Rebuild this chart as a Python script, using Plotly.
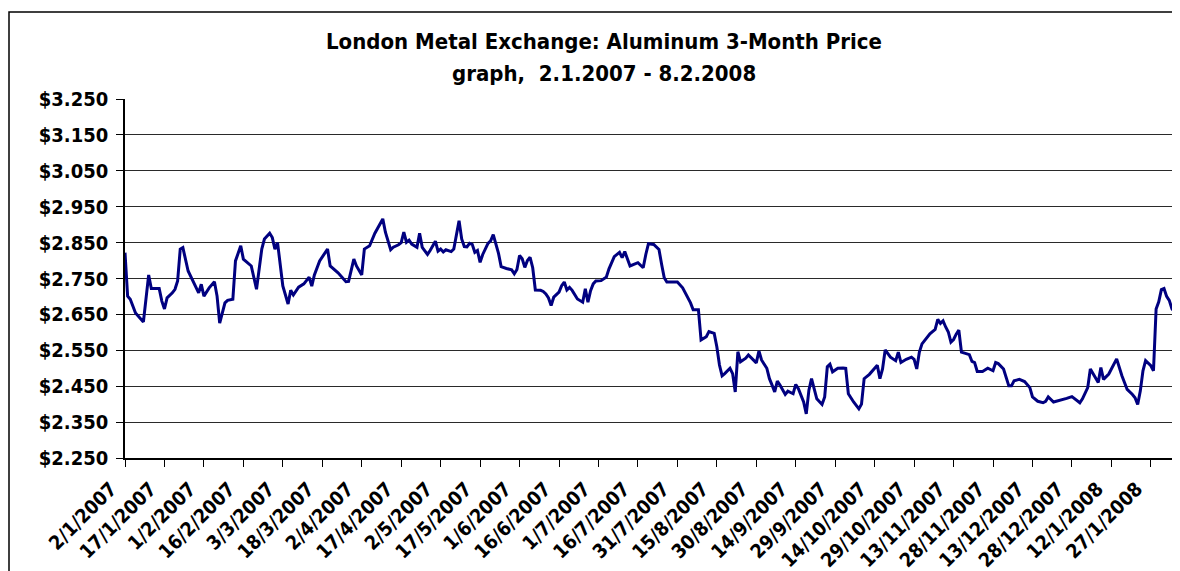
import plotly.graph_objects as go

dates = [
    "2007-01-02", "2007-01-03", "2007-01-04", "2007-01-06", "2007-01-09", "2007-01-10", "2007-01-11", "2007-01-12",
    "2007-01-15", "2007-01-16", "2007-01-17", "2007-01-18", "2007-01-20", "2007-01-21", "2007-01-22", "2007-01-23",
    "2007-01-24", "2007-01-26", "2007-01-28", "2007-01-30", "2007-01-31", "2007-02-01", "2007-02-03", "2007-02-05",
    "2007-02-06", "2007-02-07", "2007-02-09", "2007-02-10", "2007-02-12", "2007-02-13", "2007-02-15", "2007-02-16",
    "2007-02-19", "2007-02-21", "2007-02-23", "2007-02-24", "2007-02-26", "2007-02-27", "2007-02-28", "2007-03-01",
    "2007-03-03", "2007-03-05", "2007-03-06", "2007-03-07", "2007-03-09", "2007-03-11", "2007-03-13", "2007-03-14",
    "2007-03-15", "2007-03-17", "2007-03-20", "2007-03-21", "2007-03-24", "2007-03-27", "2007-03-28", "2007-03-30",
    "2007-03-31", "2007-04-02", "2007-04-03", "2007-04-05", "2007-04-07", "2007-04-10", "2007-04-11", "2007-04-13",
    "2007-04-14", "2007-04-16", "2007-04-17", "2007-04-18", "2007-04-19", "2007-04-20", "2007-04-21", "2007-04-23",
    "2007-04-24", "2007-04-25", "2007-04-27", "2007-04-28", "2007-04-30", "2007-05-01", "2007-05-02", "2007-05-03",
    "2007-05-04", "2007-05-06", "2007-05-07", "2007-05-08", "2007-05-09", "2007-05-10", "2007-05-11", "2007-05-12",
    "2007-05-13", "2007-05-14", "2007-05-15", "2007-05-16", "2007-05-17", "2007-05-18", "2007-05-19", "2007-05-20",
    "2007-05-21", "2007-05-22", "2007-05-24", "2007-05-25", "2007-05-27", "2007-05-29", "2007-05-30", "2007-05-31",
    "2007-06-01", "2007-06-02", "2007-06-03", "2007-06-04", "2007-06-05", "2007-06-06", "2007-06-07", "2007-06-09",
    "2007-06-10", "2007-06-11", "2007-06-12", "2007-06-13", "2007-06-14", "2007-06-16", "2007-06-17", "2007-06-18",
    "2007-06-19", "2007-06-20", "2007-06-21", "2007-06-23", "2007-06-25", "2007-06-26", "2007-06-27", "2007-06-28",
    "2007-06-29", "2007-06-30", "2007-07-02", "2007-07-04", "2007-07-05", "2007-07-07", "2007-07-09", "2007-07-10",
    "2007-07-11", "2007-07-13", "2007-07-16", "2007-07-18", "2007-07-19", "2007-07-20", "2007-07-22", "2007-07-24",
    "2007-07-25", "2007-07-26", "2007-07-27", "2007-07-31", "2007-08-02", "2007-08-03", "2007-08-05", "2007-08-06",
    "2007-08-08", "2007-08-09", "2007-08-11", "2007-08-12", "2007-08-14", "2007-08-15", "2007-08-16", "2007-08-17",
    "2007-08-18", "2007-08-20", "2007-08-21", "2007-08-22", "2007-08-23", "2007-08-24", "2007-08-26", "2007-08-27",
    "2007-08-29", "2007-08-30", "2007-08-31", "2007-09-01", "2007-09-03", "2007-09-04", "2007-09-05", "2007-09-06",
    "2007-09-07", "2007-09-08", "2007-09-10", "2007-09-11", "2007-09-13", "2007-09-14", "2007-09-15", "2007-09-16",
    "2007-09-17", "2007-09-18", "2007-09-19", "2007-09-20", "2007-09-21", "2007-09-22", "2007-09-24", "2007-09-25",
    "2007-09-26", "2007-09-27", "2007-09-28", "2007-09-30", "2007-10-02", "2007-10-03", "2007-10-04", "2007-10-06",
    "2007-10-08", "2007-10-09", "2007-10-10", "2007-10-12", "2007-10-14", "2007-10-15", "2007-10-16", "2007-10-17",
    "2007-10-18", "2007-10-20", "2007-10-22", "2007-10-23", "2007-10-24", "2007-10-26", "2007-10-28", "2007-10-29",
    "2007-10-30", "2007-10-31", "2007-11-01", "2007-11-03", "2007-11-04", "2007-11-06", "2007-11-07", "2007-11-08",
    "2007-11-09", "2007-11-10", "2007-11-11", "2007-11-12", "2007-11-13", "2007-11-14", "2007-11-15", "2007-11-16",
    "2007-11-18", "2007-11-19", "2007-11-20", "2007-11-21", "2007-11-22", "2007-11-24", "2007-11-26", "2007-11-28",
    "2007-11-29", "2007-11-30", "2007-12-02", "2007-12-03", "2007-12-04", "2007-12-05", "2007-12-06", "2007-12-08",
    "2007-12-10", "2007-12-12", "2007-12-13", "2007-12-15", "2007-12-17", "2007-12-18", "2007-12-19", "2007-12-21",
    "2007-12-24", "2007-12-26", "2007-12-28", "2007-12-30", "2007-12-31", "2008-01-01", "2008-01-03", "2008-01-04",
    "2008-01-05", "2008-01-07", "2008-01-08", "2008-01-09", "2008-01-11", "2008-01-13", "2008-01-14", "2008-01-16",
    "2008-01-17", "2008-01-18", "2008-01-20", "2008-01-21", "2008-01-22", "2008-01-23", "2008-01-24", "2008-01-25",
    "2008-01-27", "2008-01-28", "2008-01-29", "2008-01-30", "2008-01-31", "2008-02-01", "2008-02-02", "2008-02-03",
    "2008-02-04", "2008-02-05", "2008-02-06", "2008-02-07", "2008-02-08",
]

prices = [
    2822, 2701, 2692, 2654, 2629, 2696, 2760, 2722,
    2722, 2687, 2665, 2696, 2710, 2720, 2743, 2832,
    2836, 2771, 2738, 2710, 2734, 2701, 2724, 2741,
    2701, 2626, 2682, 2689, 2692, 2799, 2841, 2804,
    2785, 2720, 2832, 2860, 2876, 2864, 2832, 2850,
    2729, 2679, 2717, 2704, 2726, 2735, 2754, 2729,
    2760, 2799, 2832, 2785, 2766, 2741, 2742, 2804,
    2785, 2760, 2832, 2841, 2876, 2916, 2879, 2830,
    2837, 2844, 2850, 2879, 2851, 2857, 2846, 2837,
    2876, 2837, 2817, 2828, 2854, 2826, 2832, 2824,
    2830, 2825, 2832, 2874, 2911, 2860, 2839, 2838,
    2848, 2845, 2823, 2828, 2795, 2817, 2832, 2848,
    2855, 2872, 2820, 2783, 2778, 2774, 2763, 2775,
    2814, 2805, 2781, 2800, 2809, 2780, 2718, 2717,
    2714, 2707, 2696, 2675, 2698, 2712, 2730, 2740,
    2718, 2725, 2717, 2693, 2684, 2721, 2684, 2716,
    2735, 2743, 2744, 2754, 2777, 2811, 2823, 2808,
    2825, 2785, 2794, 2780, 2817, 2847, 2845, 2831,
    2790, 2752, 2740, 2740, 2724, 2710, 2682, 2663,
    2663, 2579, 2588, 2602, 2597, 2560, 2509, 2479,
    2485, 2500, 2485, 2434, 2546, 2518, 2528, 2537,
    2523, 2515, 2548, 2523, 2500, 2471, 2453, 2434,
    2464, 2453, 2427, 2436, 2429, 2455, 2443, 2425,
    2406, 2373, 2439, 2471, 2443, 2415, 2399, 2420,
    2504, 2511, 2490, 2500, 2501, 2500, 2429, 2406,
    2387, 2400, 2471, 2483, 2500, 2508, 2471, 2498,
    2551, 2531, 2521, 2545, 2516, 2525, 2531, 2525,
    2498, 2545, 2568, 2587, 2596, 2608, 2636, 2625,
    2632, 2615, 2601, 2573, 2580, 2595, 2606, 2545,
    2540, 2538, 2519, 2516, 2491, 2491, 2500, 2493,
    2516, 2513, 2498, 2474, 2451, 2451, 2465, 2469,
    2463, 2446, 2420, 2408, 2404, 2408, 2420, 2406,
    2411, 2416, 2421, 2408, 2404, 2415, 2446, 2498,
    2484, 2460, 2502, 2469, 2484, 2512, 2526, 2479,
    2460, 2441, 2427, 2418, 2399, 2437, 2493, 2521,
    2507, 2493, 2665, 2685, 2719, 2722, 2700, 2689,
    2666, 2657, 2665, 2685, 2690,
]

title_line1 = "London Metal Exchange: Aluminum 3-Month Price"
title_line2 = "graph,&nbsp; 2.1.2007 - 8.2.2008"
y_min, y_max, y_step = 2250, 3250, 100
x_start, x_end = "2007-01-02", "2008-02-07 02:00"
tick_start = "2007-01-02"
tick_days = 15

FONT = "DejaVu Sans Condensed, DejaVu Sans"

# the page body adds an 8px offset; lay out in page pixels and compensate
OFF = 8
PAGE_W, PAGE_H = 1180, 571
W, H = PAGE_W - OFF, PAGE_H - OFF
PLOT_LEFT, PLOT_TOP, PLOT_BOTTOM = 125, 99, 458   # page pixels
L, T = PLOT_LEFT - OFF, PLOT_TOP - OFF
B = H - (PLOT_BOTTOM - OFF)
R = 0
PW, PH = W - L - R, H - T - B


def px_x(page_x):
    return (page_x - PLOT_LEFT) / PW


def px_y(page_y):
    return (PLOT_BOTTOM - page_y) / PH


fig = go.Figure()
fig.add_trace(go.Scatter(
    x=dates, y=prices, mode="lines",
    line=dict(color="#000080", width=3),
    showlegend=False, hoverinfo="x+y",
))

fig.update_layout(
    width=W, height=H,
    margin=dict(l=L, r=R, t=T, b=B, autoexpand=False),
    paper_bgcolor="white", plot_bgcolor="white",
    separators=",.",
    font=dict(family=FONT, color="black"),
)

title_font = dict(family=FONT, size=22, color="black", weight="bold")
fig.add_annotation(
    text=title_line1, xref="paper", yref="paper",
    x=px_x(604), y=px_y(42),
    xanchor="center", yanchor="middle", showarrow=False, font=title_font,
)
fig.add_annotation(
    text=title_line2, xref="paper", yref="paper",
    x=px_x(604), y=px_y(73),
    xanchor="center", yanchor="middle", showarrow=False, font=title_font,
)

fig.update_xaxes(
    type="date", range=[x_start, x_end], automargin=False,
    tick0=tick_start, dtick=tick_days * 86400000,
    tickformat="%-d/%-m/%Y", tickangle=-45,
    tickfont=dict(family=FONT, size=19.5, color="black", weight="bold"),
    ticks="outside", ticklen=7, tickcolor="black", tickwidth=1,
    ticklabelshift=-14, ticklabelstandoff=3,
    showline=True, linecolor="black", linewidth=1.5,
    showgrid=False, zeroline=False,
)

fig.update_yaxes(
    range=[y_min, y_max], dtick=y_step, tick0=y_min, automargin=False,
    tickprefix="$", tickformat=",d",
    tickfont=dict(family=FONT, size=20, color="black", weight="bold"),
    ticks="outside", ticklen=7, tickcolor="black", tickwidth=1,
    ticklabelstandoff=4,
    showline=True, linecolor="black", linewidth=1.5,
    showgrid=True, gridcolor="#2a2a2a", gridwidth=1.3,
    zeroline=False,
)

fig.add_shape(
    type="rect", xref="paper", yref="paper",
    x0=px_x(9), x1=1.1, y0=-0.4, y1=px_y(12),
    line=dict(color="black", width=1.5), fillcolor="rgba(0,0,0,0)",
    layer="below",
)

fig.write_html("out.html")
